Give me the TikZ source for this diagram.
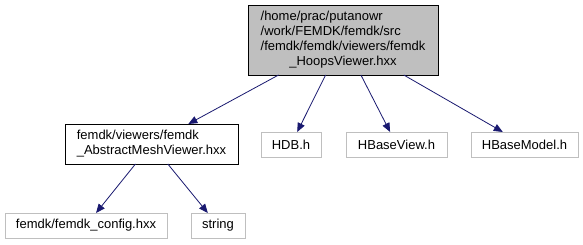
\documentclass[tikz,border=0pt]{standalone}
\usepackage{fontspec}
\setmainfont{Liberation Sans}
\usetikzlibrary{arrows.meta}
\definecolor{edgeblue}{HTML}{191970}
\definecolor{mainfill}{HTML}{BFBFBF}
\definecolor{leafgray}{HTML}{BFBFBF}
% left-aligned lines, last line centred
\newcommand{\filelines}[2]{\begin{tabular}{@{}l@{}}#1\\\multicolumn{1}{@{}c@{}}{#2}\end{tabular}}
\tikzset{
  filebox/.style={draw, rectangle, inner sep=0pt, outer sep=0pt, line width=0.9pt,
    font=\fontsize{13}{15}\selectfont},
  mainbox/.style={filebox, draw=black, fill=mainfill},
  innerbox/.style={filebox, draw=black, fill=white},
  leafbox/.style={filebox, draw=leafgray, fill=white, minimum height=25pt},
  dep/.style={draw=edgeblue, line width=0.8pt,
    -{Triangle[length=9pt,width=7.5pt,fill=edgeblue]}},
}
\begin{document}
\begin{tikzpicture}[x=1pt, y=-1pt]
\useasboundingbox[fill=white] (0,0) rectangle (583,245);

\node[mainbox, minimum width=190pt, minimum height=70pt] (hoops) at (343,40)
  {\filelines{/home/prac/putanowr\\/work/FEMDK/femdk/src\\/femdk/femdk/viewers/femdk}{\_HoopsViewer.hxx}};

\node[innerbox, minimum width=173pt, minimum height=40pt] (abstract) at (151.5,144)
  {\filelines{femdk/viewers/femdk}{\_AbstractMeshViewer.hxx}};

\node[leafbox, minimum width=60pt]  (hdb)   at (291,144.5)   {HDB.h};
\node[leafbox, minimum width=101pt] (hview) at (396.5,144.5) {HBaseView.h};
\node[leafbox, minimum width=107pt] (hmodel) at (524.5,144.5) {HBaseModel.h};

\node[leafbox, minimum width=162pt] (config) at (86,225.5)  {femdk/femdk\_config.hxx};
\node[leafbox, minimum width=54pt]  (string) at (218,225.5) {string};

\draw[dep] (hoops) -- (abstract);
\draw[dep] (hoops) -- (hdb);
\draw[dep] (hoops) -- (hview);
\draw[dep] (hoops) -- (hmodel);
\draw[dep] (abstract) -- (config);
\draw[dep] (abstract) -- (string);
\end{tikzpicture}
\end{document}
